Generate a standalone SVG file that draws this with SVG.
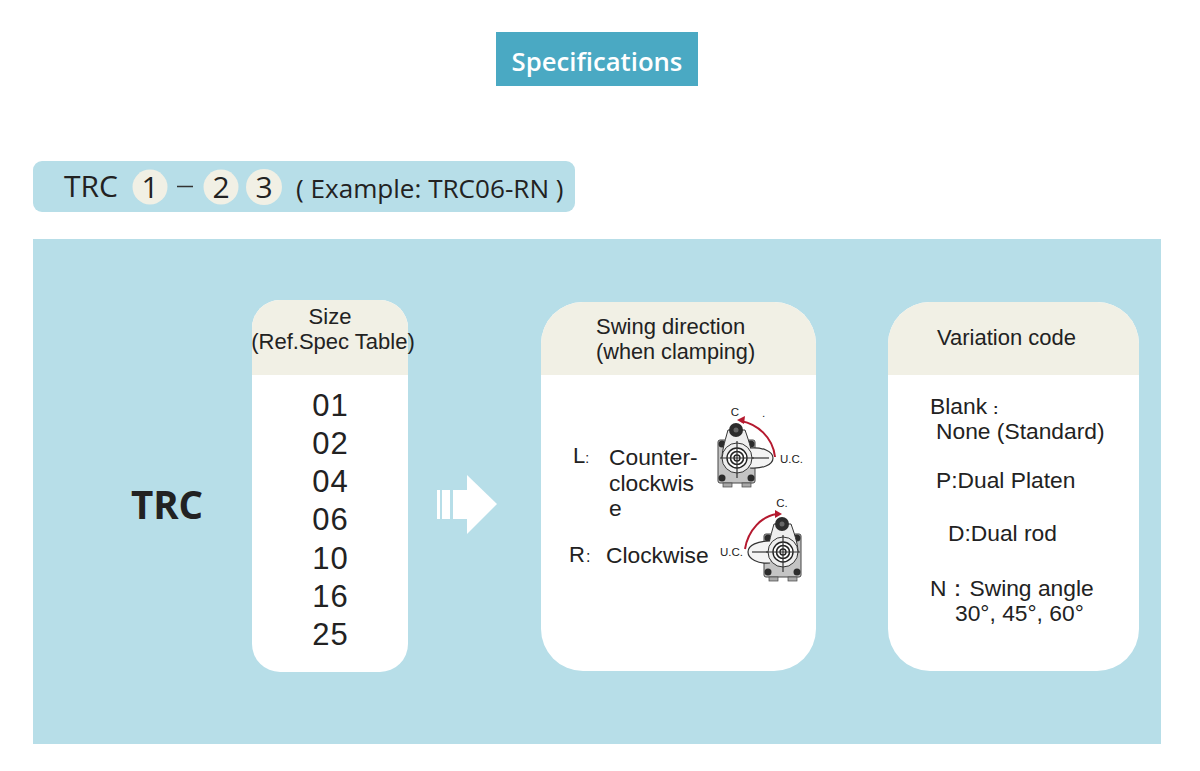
<svg xmlns="http://www.w3.org/2000/svg" width="1200" height="771" viewBox="0 0 1200 771">
<style>
.s{font-family:"Liberation Sans",Arial,sans-serif;fill:#222;font-size:22px}
.m{font-family:"Liberation Sans",Arial,sans-serif;fill:#222;font-size:22.800px}
.o{font-family:"Open Sans","Noto Sans",sans-serif;fill:#222}
.card{fill:#fff}.head{fill:#f1f0e5}.lb{fill:#b7dee8}
.ln{fill:none;stroke:#333;stroke-width:1.2}
.blk{fill:#2c2c2c}.arc{fill:none;stroke:#b5192f;stroke-width:2}
.u{font-family:"Liberation Sans",Arial,sans-serif;font-size:11.5px;fill:#222}
</style>
<defs>
<clipPath id="c1"><rect x="252" y="300" width="156" height="372" rx="28"/></clipPath>
<clipPath id="c2"><rect x="541" y="302" width="275" height="369" rx="42"/></clipPath>
<clipPath id="c3"><rect x="888" y="302" width="251" height="369" rx="42"/></clipPath>
<g id="body">
<rect x="-19" y="-18" width="37" height="43" rx="2" fill="#c4c4c4" stroke="#444"/>
<rect x="-14" y="25" width="9" height="4" fill="#aaa" stroke="#444" stroke-width=".7"/>
<rect x="5" y="25" width="9" height="4" fill="#aaa" stroke="#444" stroke-width=".7"/>
<circle cx="-15" cy="-14" r="3.500" class="blk"/><circle cx="14" cy="-14" r="3.500" class="blk"/>
<circle cx="-15" cy="20" r="3.500" class="blk"/><circle cx="14" cy="20" r="3.500" class="blk"/>
<path d="M-9-28C-13-14-15-6-15 0H15C15-6 13-14 8-28Z" fill="#eee" stroke="#333"/>
<circle cx="-1" cy="-28" r="7" class="blk"/>
<circle cx="-1" cy="-28" r="2.500" fill="#666"/>
</g>
<g id="rings">
<circle cx="0" cy="0" r="15" fill="#eee" stroke="#333"/>
<circle cx="0" cy="0" r="10" fill="#fff" stroke="#222" stroke-width="1.400"/>
<circle cx="0" cy="0" r="6.500" fill="#fff" stroke="#222" stroke-width="1.600"/>
<circle cx="0" cy="0" r="3" fill="#fff" stroke="#222" stroke-width="1.400"/>
<path class="ln" d="M-17 0H17M0-17V20"/>
</g>
</defs>
<rect width="1200" height="771" fill="#fff"/>
<g id="title"><rect x="496" y="32" width="202" height="54" fill="#4aa9c3"/>
<text x="597" y="71" text-anchor="middle" font-family="'Open Sans','Noto Sans',sans-serif" font-size="25.700" font-weight="600" fill="#fff">Specifications</text></g>
<g id="code">
<rect x="33" y="161" width="542" height="51" rx="9" class="lb"/>
<text x="64" y="197" class="o" font-size="30">TRC</text>
<circle cx="150" cy="187" r="17.500" class="head"/><circle cx="221" cy="187" r="17.500" class="head"/><circle cx="264" cy="187" r="18" class="head"/>
<text x="150" y="198" text-anchor="middle" class="o" font-size="30">1</text>
<path d="M177 186.500H193" stroke="#333" stroke-width="1.500"/>
<text x="221" y="198" text-anchor="middle" class="o" font-size="30">2</text>
<text x="264" y="198" text-anchor="middle" class="o" font-size="30">3</text>
<text x="296" y="198" class="o" font-size="26.100">( Example: TRC06-RN )</text>
</g>
<rect id="panel" x="33" y="239" width="1128" height="505" class="lb"/>
<text id="trc" x="167" y="519" text-anchor="middle" font-family="'Open Sans','Noto Sans',sans-serif" font-size="38.500" font-weight="700" fill="#222">TRC</text>
<g id="arrow" fill="#fff"><rect x="437" y="490" width="3" height="29"/><rect x="442" y="490" width="8" height="29"/><rect x="453" y="490" width="15" height="29"/>
<path d="M467 475L497 504L467 534Z"/></g>
<g id="size">
<rect x="252" y="300" width="156" height="372" rx="28" class="card"/>
<rect x="252" y="300" width="156" height="75" class="head" clip-path="url(#c1)"/>
<text x="330" y="324" text-anchor="middle" class="s">Size</text>
<text x="333" y="349" text-anchor="middle" class="s">(Ref.Spec Table)</text>
<g text-anchor="middle" font-family="'Liberation Sans',Arial,sans-serif" font-size="31" fill="#222" letter-spacing="1">
<text x="330.500" y="416">01</text><text x="330.500" y="454">02</text><text x="330.500" y="492">04</text><text x="330.500" y="530">06</text><text x="330.500" y="569">10</text><text x="330.500" y="607">16</text><text x="330.500" y="645">25</text></g>
</g>
<g id="swing">
<rect x="541" y="302" width="275" height="369" rx="42" class="card"/>
<rect x="541" y="302" width="275" height="73" class="head" clip-path="url(#c2)"/>
<text x="596" y="334" class="s">Swing direction</text>
<text x="596" y="359" class="s" style="font-size:21.700px">(when clamping)</text>
<text x="573" y="463" class="s">L<tspan font-size="14" style="font-size:14px">:</tspan></text>
<text x="609" y="465" class="m">Counter-</text><text x="609" y="491" class="m">clockwis</text><text x="609" y="516" class="m">e</text>
<text x="569" y="562" class="s">R<tspan dx="1" style="font-size:16px">:</tspan></text><text x="606" y="563" class="m">Clockwise</text>
<use href="#body" x="737" y="458"/>
<path d="M750 448C762 447 773 451 773 458C773 465 762 469 750 468" fill="#f4f4f4" stroke="#333" stroke-width="1.200"/>
<use href="#rings" x="737" y="458"/>
<path class="ln" d="M752 458H769"/>
<path class="arc" d="M775 457C773 437 757 424 741 421"/><path d="M737 420L745 416L744 424Z" fill="#b5192f"/>
<text x="735" y="416" text-anchor="middle" class="u">C</text>
<text x="762" y="417" class="u">.</text>
<text x="780" y="463" class="u">U.C.</text>
<use href="#body" x="783" y="552"/>
<path d="M770 541C758 541 748 545 748 552C748 559 758 564 770 563" fill="#f4f4f4" stroke="#333" stroke-width="1.200"/>
<use href="#rings" x="783" y="552"/>
<path class="ln" d="M752 552H768"/>
<path class="arc" d="M745 549C748 530 762 516 777 514"/><path d="M782 514L775 510L775 518Z" fill="#b5192f"/>
<text x="782" y="507" text-anchor="middle" class="u">C.</text>
<text x="720" y="556" class="u">U.C.</text>
</g>
<g id="variation">
<rect x="888" y="302" width="251" height="369" rx="42" class="card"/>
<rect x="888" y="302" width="251" height="73" class="head" clip-path="url(#c3)"/>
<text x="937" y="345" class="s">Variation code</text>
<text x="930" y="414" class="m">Blank <tspan style="font-size:15px;font-weight:700">:</tspan></text>
<text x="936" y="439" class="m">None (Standard)</text>
<text x="936" y="488" class="m">P:Dual Platen</text>
<text x="948" y="541" class="m">D:Dual rod</text>
<text x="930" y="596" class="m">N：Swing angle</text>
<text x="955" y="621" class="m">30°, 45°, 60°</text>
</g>
</svg>
